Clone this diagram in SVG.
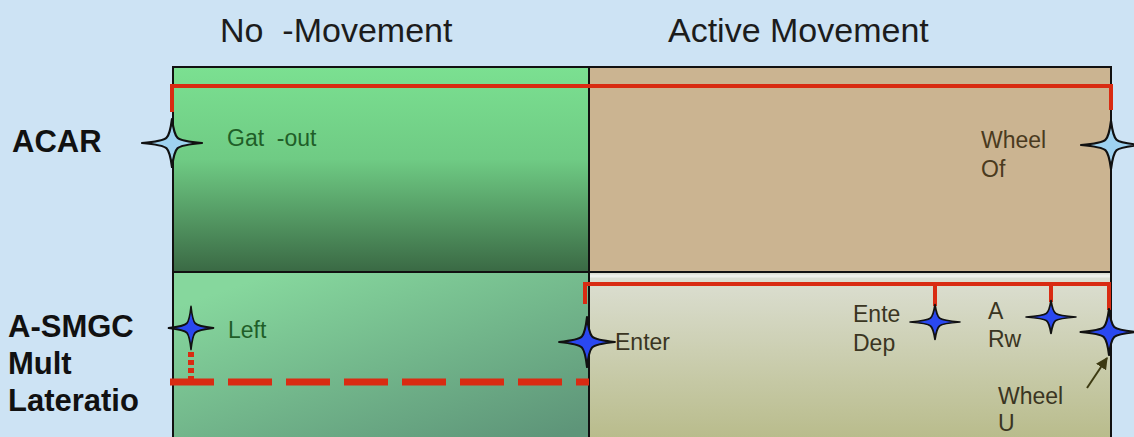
<svg xmlns="http://www.w3.org/2000/svg" width="1134" height="437" viewBox="0 0 1134 437">
  <style>
    .hdr { font-family: "Liberation Sans", Arial, sans-serif; font-size: 34px; fill: #1c1c1c; }
    .row { font-family: "Liberation Sans", Arial, sans-serif; font-size: 31px; font-weight: bold; fill: #111; }
    .lbl { font-family: "Liberation Sans", Arial, sans-serif; font-size: 23px; }
    .green { fill: #1f5e28; }
    .brown { fill: #4a3a1e; }
    .dark { fill: #3a3522; }
    .track { fill: none; stroke: #d92b12; stroke-width: 4; }
    .panel { fill: none; stroke: #111; stroke-width: 2; }
    .star { stroke: #111; stroke-width: 2.2; stroke-linejoin: round; }
    .lt { fill: #9ed2f0; }
    .bl { fill: #2a48f0; }
  </style>
  <defs>
    <linearGradient id="gTopLeft" x1="0" y1="0" x2="0" y2="1">
      <stop offset="0" stop-color="#7be091"/>
      <stop offset="0.45" stop-color="#6fcb84"/>
      <stop offset="1" stop-color="#3a6944"/>
    </linearGradient>
    <linearGradient id="gBotLeft" x1="0.25" y1="0" x2="1" y2="0.9">
      <stop offset="0" stop-color="#86d79d"/>
      <stop offset="1" stop-color="#5e9579"/>
    </linearGradient>
    <linearGradient id="gBotRight" x1="0" y1="0" x2="0" y2="1">
      <stop offset="0" stop-color="#dde0d4"/>
      <stop offset="1" stop-color="#b8bb8a"/>
    </linearGradient>
    <!-- slender four-point star, arms of 30 (horizontal) and 25 (vertical) -->
    <path id="star" d="M0,-25 Q2,-9 5.5,-5.5 Q9,-2 30,0 Q9,2 5.5,5.5 Q2,9 0,25 Q-2,9 -5.5,5.5 Q-9,2 -30,0 Q-9,-2 -5.5,-5.5 Q-2,-9 0,-25 Z"/>
    <marker id="arrow" viewBox="0 0 10 10" refX="9" refY="5" markerWidth="6" markerHeight="6" orient="auto-start-reverse">
      <path d="M0,0 L10,5 L0,10 Z" fill="#3d3a12"/>
    </marker>
  </defs>

  <!-- background -->
  <rect x="0" y="0" width="1134" height="437" fill="#cde3f4"/>

  <!-- column headers -->
  <text class="hdr" x="220" y="42" xml:space="preserve">No  -Movement</text>
  <text class="hdr" x="668" y="42">Active Movement</text>

  <!-- row headers -->
  <text class="row" x="12" y="152">ACAR</text>
  <text class="row" x="8" y="337">A-SMGC</text>
  <text class="row" x="8" y="374">Mult</text>
  <text class="row" x="8" y="411">Lateratio</text>

  <!-- zone panels -->
  <g id="zones">
    <rect x="173" y="67" width="416" height="205" fill="url(#gTopLeft)"/>
    <rect x="589" y="67" width="522" height="205" fill="#cbb491"/>
    <rect x="173" y="272" width="416" height="170" fill="url(#gBotLeft)"/>
    <rect x="589" y="272" width="522" height="170" fill="url(#gBotRight)"/>
    <line x1="590" y1="276" x2="1110" y2="276" stroke="#eef0ea" stroke-width="3"/>
    <rect class="panel" x="173" y="67" width="938" height="205"/>
    <rect class="panel" x="173" y="272" width="938" height="175"/>
    <line class="panel" x1="589" y1="67" x2="589" y2="437"/>
  </g>

  <!-- tracks and pointers -->
  <g id="connectors">
    <path class="track" d="M172,112 V86 H1111 V110"/>
    <path class="track" d="M585,304 V284 H1109 V310"/>
    <path class="track" d="M935,284 V306"/>
    <path class="track" d="M1051,284 V302"/>
    <line x1="170" y1="382" x2="589" y2="382" stroke="#d92b12" stroke-width="7" stroke-dasharray="44 14"/>
    <line x1="191" y1="352" x2="191" y2="380" stroke="#d92b12" stroke-width="6" stroke-dasharray="5 3"/>
    <line x1="1087" y1="388" x2="1107" y2="358" stroke="#3d3a12" stroke-width="2" marker-end="url(#arrow)"/>
  </g>

  <!-- events -->
  <g id="gate-out">
    <use href="#star" class="star lt" transform="translate(172,143) scale(1,0.96)"/>
    <text class="lbl green" x="227" y="146" xml:space="preserve">Gat  -out</text>
  </g>
  <g id="wheels-off">
    <use href="#star" class="star lt" transform="translate(1111,145) scale(1,0.96)"/>
    <text class="lbl brown" x="981" y="148">Wheel</text>
    <text class="lbl brown" x="981" y="177">Of</text>
  </g>
  <g id="left">
    <use href="#star" class="star bl" transform="translate(191,328) scale(0.75,0.86)"/>
    <text class="lbl green" x="228" y="338">Left</text>
  </g>
  <g id="enter">
    <use href="#star" class="star bl" transform="translate(587,342) scale(0.93,1)"/>
    <text class="lbl dark" x="615" y="350">Enter</text>
  </g>
  <g id="enter-dep">
    <use href="#star" class="star bl" transform="translate(935,322) scale(0.83,0.7)"/>
    <text class="lbl dark" x="853" y="322">Ente</text>
    <text class="lbl dark" x="853" y="351">Dep</text>
  </g>
  <g id="at-rwy">
    <use href="#star" class="star bl" transform="translate(1051,317) scale(0.83,0.66)"/>
    <text class="lbl dark" x="988" y="319">A</text>
    <text class="lbl dark" x="988" y="347">Rw</text>
  </g>
  <g id="wheels-up">
    <use href="#star" class="star bl" transform="translate(1109,332) scale(0.95,0.92)"/>
    <text class="lbl dark" x="998" y="404">Wheel</text>
    <text class="lbl dark" x="998" y="431">U</text>
  </g>
</svg>
